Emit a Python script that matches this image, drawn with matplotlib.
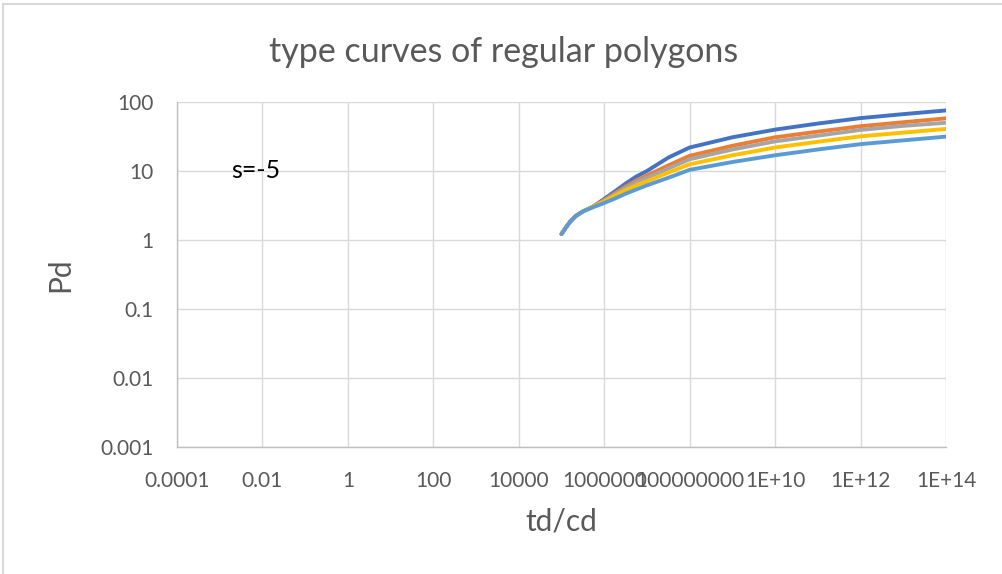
import matplotlib.pyplot as plt
from matplotlib.lines import Line2D

plt.rcParams['font.family'] = ['Lato', 'DejaVu Sans']

# Dimensionless time and pressure for five polygon type curves (skin s=-5)
td_cd = [1e5, 1.25e5, 1.6e5, 2.2e5, 3.2e5, 5.6e5, 1e6, 1.8e6, 3.2e6, 5.6e6, 1e7,
         3.2e7, 1e8, 1e9, 1e10, 1e11, 1e12, 1e13, 1e14]
pd_1 = [1.22, 1.5, 1.85, 2.25, 2.6, 3.07, 3.94, 5.1, 6.6, 8.3, 10.0,
        15.7, 21.9, 30.8, 39.8, 48.7, 58.4, 66.7, 75.5]
pd_2 = [1.22, 1.5, 1.85, 2.25, 2.6, 3.07, 3.8, 4.8, 6.0, 7.3, 8.6,
        12.1, 16.6, 23.2, 30.8, 37.2, 44.6, 50.9, 58.0]
pd_3 = [1.22, 1.5, 1.85, 2.25, 2.6, 3.07, 3.7, 4.6, 5.7, 6.9, 8.0,
        10.9, 14.8, 20.5, 26.9, 32.5, 39.4, 45.1, 50.0]
pd_4 = [1.22, 1.5, 1.85, 2.25, 2.6, 3.07, 3.6, 4.4, 5.3, 6.2, 7.1,
        9.5, 12.5, 16.9, 21.9, 26.5, 31.8, 36.0, 40.7]
pd_5 = [1.22, 1.5, 1.85, 2.25, 2.6, 3.0, 3.44, 4.0, 4.7, 5.4, 6.2,
        8.0, 10.4, 13.5, 16.9, 20.5, 24.5, 27.8, 31.5]

series = [pd_1, pd_2, pd_3, pd_4, pd_5]
colors = ['#4472C4', '#ED7D31', '#A5A5A5', '#FFC000', '#5B9BD5']

x_ticks = [1e-4, 1e-2, 1, 1e2, 1e4, 1e6, 1e8, 1e10, 1e12, 1e14]
x_labels = ['0.0001', '0.01', '1', '100', '10000', '1000000', '100000000', '1E+10', '1E+12', '1E+14']
y_ticks = [1e-3, 1e-2, 1e-1, 1, 10, 100]
y_labels = ['0.001', '0.01', '0.1', '1', '10', '100']

fig = plt.figure(figsize=(10.02, 5.74), dpi=100)
ax = fig.add_axes([177 / 1002, 1 - 447 / 574, (946 - 177) / 1002, (447 - 102) / 574])

for pd, c in zip(series, colors):
    ax.plot(td_cd, pd, color=c, linewidth=2.8, solid_capstyle='round',
            solid_joinstyle='round')

ax.set_xscale('log')
ax.set_yscale('log')
ax.set_xlim(1e-4, 1e14)
ax.set_ylim(1e-3, 100)
ax.set_xticks(x_ticks)
ax.set_xticklabels(x_labels)
ax.set_yticks(y_ticks)
ax.set_yticklabels(y_labels)
ax.minorticks_off()
ax.tick_params(length=0, labelsize=15, labelcolor='#595959')
ax.tick_params(axis='x', pad=17)
ax.tick_params(axis='y', pad=17)

ax.grid(True, color='#d9d9d9', linewidth=1.0)
ax.set_axisbelow(True)
for side in ['top', 'right']:
    ax.spines[side].set_visible(False)
for side in ['left', 'bottom']:
    ax.spines[side].set_color('#bfbfbf')
    ax.spines[side].set_linewidth(1.0)

ax.text(0.0019, 10, 's=-5', fontsize=18, color='black', ha='left', va='center')

fig.text(504 / 1002, 1 - 52 / 574, 'type curves of regular polygons',
         fontsize=24.5, color='#595959', ha='center', va='center')
fig.text(561 / 1002, 1 - 522 / 574, 'td/cd', fontsize=21.5, color='#595959',
         ha='center', va='center')
fig.text(60 / 1002, 1 - 275 / 574, 'Pd', fontsize=21.5, color='#595959',
         ha='center', va='center', rotation=90)

# chart frame along top and left edge
fig.add_artist(Line2D([3 / 1002, 3 / 1002], [0, 1 - 4 / 574], color='#d9d9d9', linewidth=1.5))
fig.add_artist(Line2D([3 / 1002, 1], [1 - 4 / 574, 1 - 4 / 574], color='#d9d9d9', linewidth=1.5))

fig.savefig('out.png', dpi=100)
